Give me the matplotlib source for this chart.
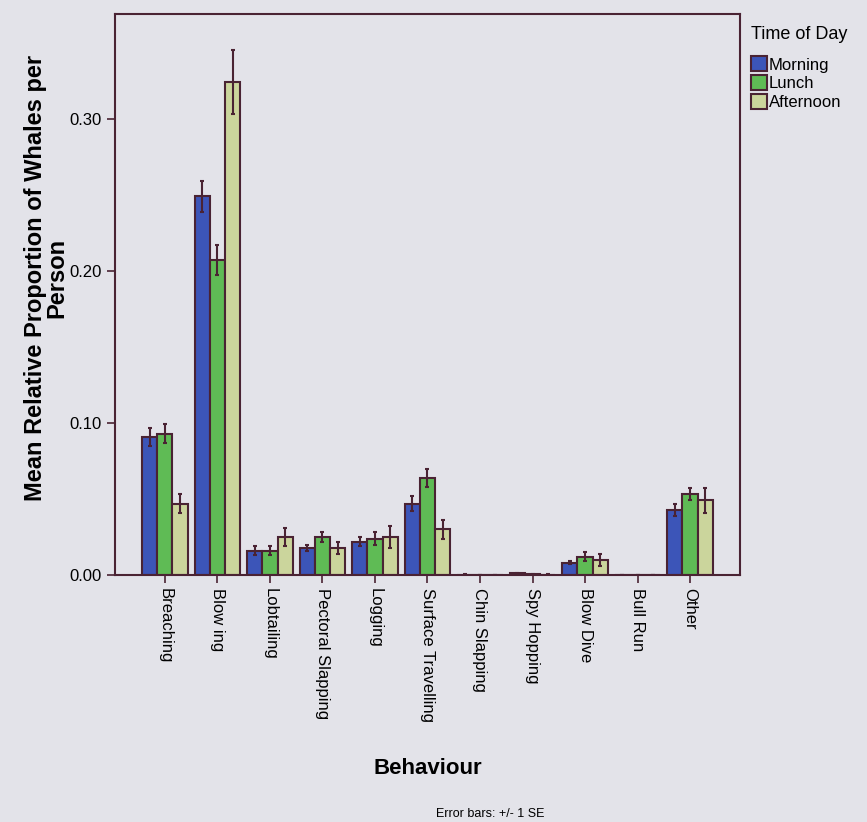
import numpy as np
import matplotlib.pyplot as plt

plt.rcParams['font.family'] = ['Liberation Sans', 'DejaVu Sans']

behaviours = ['Breaching', 'Blow ing', 'Lobtailing', 'Pectoral Slapping', 'Logging',
              'Surface Travelling', 'Chin Slapping', 'Spy Hopping', 'Blow Dive',
              'Bull Run', 'Other']
times = ['Morning', 'Lunch', 'Afternoon']

morning = [0.091, 0.249, 0.016, 0.018, 0.022, 0.047, 0.0003, 0.0012, 0.008, 0.0002, 0.043]
lunch = [0.093, 0.207, 0.016, 0.025, 0.024, 0.064, 0.0002, 0.0006, 0.012, 0.0001, 0.053]
afternoon = [0.047, 0.324, 0.025, 0.018, 0.025, 0.030, 0.0002, 0.0003, 0.010, 0.0001, 0.049]

morning_se = [0.006, 0.010, 0.003, 0.002, 0.003, 0.005, 0.0002, 0.0004, 0.001, 0.0001, 0.004]
lunch_se = [0.006, 0.010, 0.003, 0.003, 0.004, 0.006, 0.0001, 0.0003, 0.003, 0.0001, 0.004]
afternoon_se = [0.006, 0.021, 0.006, 0.004, 0.007, 0.006, 0.0001, 0.0002, 0.004, 0.0001, 0.008]

colores = ['#3c55b8', '#5fbb55', '#cbd59c']
borde = '#4a2333'
fondo = '#e3e3e9'

fig = plt.figure(figsize=(8.67, 8.22), dpi=100, facecolor=fondo)
ax = fig.add_axes([0.1326, 0.3005, 0.7209, 0.6825], facecolor=fondo)

x = np.arange(len(behaviours))
ancho = 0.29
series = [(morning, morning_se), (lunch, lunch_se), (afternoon, afternoon_se)]
for i, (vals, se) in enumerate(series):
    ax.bar(x + (i - 1) * ancho, vals, ancho, color=colores[i], edgecolor=borde,
           linewidth=1.5, label=times[i],
           yerr=se, error_kw=dict(ecolor=borde, elinewidth=1.5, capsize=1.5, capthick=1.5))

ax.set_xlim(-0.95, 10.95)
ax.set_ylim(0, 0.369)
ax.set_yticks([0.0, 0.1, 0.2, 0.3])
ax.set_yticklabels(['0.00', '0.10', '0.20', '0.30'])
ax.set_xticks(x)
ax.set_xticklabels(behaviours, rotation=270, fontsize=12)
ax.tick_params(axis='y', labelsize=12, length=6, width=1.2, color=borde)
ax.tick_params(axis='x', length=6, width=1.2, color=borde)
for s in ax.spines.values():
    s.set_color(borde)
    s.set_linewidth(1.5)

ax.set_xlabel('Behaviour', fontsize=16, fontweight='bold', labelpad=26)
ax.set_ylabel('Mean Relative Proportion of Whales per\nPerson', fontsize=17,
              fontweight='bold', linespacing=0.9)
ax.yaxis.set_label_coords(-0.075, 0.53)

leg = ax.legend(title='Time of Day', loc='upper left', bbox_to_anchor=(0.993, 1.006),
                frameon=False, fontsize=12, title_fontsize=13, handlelength=1.0,
                handleheight=1.0, handletextpad=0.1, labelspacing=0.15,
                borderaxespad=0.5)
leg._legend_box.align = 'left'
leg._legend_box.sep = 10

fig.text(0.565, 0.006, 'Error bars: +/- 1 SE', fontsize=9, ha='center')

plt.savefig('out.png', dpi=100, facecolor=fondo)
